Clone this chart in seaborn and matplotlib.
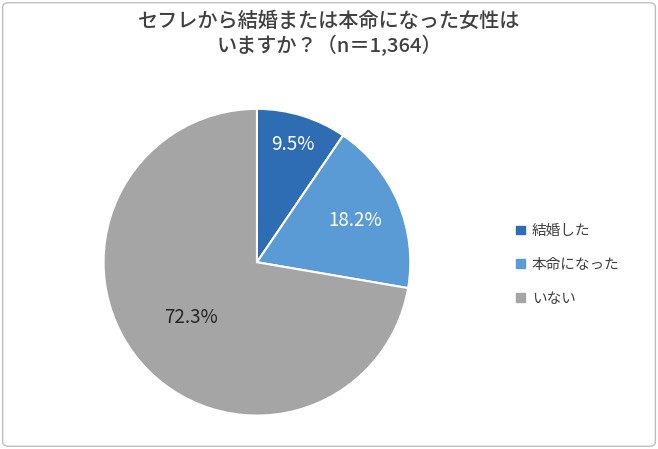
import numpy as np
import matplotlib.pyplot as plt
import seaborn as sns
from matplotlib.patches import FancyBboxPatch

labels = ['結婚した', '本命になった', 'いない']
values = [9.5, 18.2, 72.3]
title = 'セフレから結婚または本命になった女性は\nいますか？（n＝1,364）'

sns.set_theme(style='white')
plt.rcParams['font.family'] = ['Noto Sans CJK JP', 'DejaVu Sans']

colors = ['#2E6DB4', '#5B9BD5', '#A5A5A5']
text_colors = ['white', 'white', '#262626']
label_dist = [0.8, 0.7, 0.56]

fig = plt.figure(figsize=(6.58, 4.49), dpi=100)
fig.patches.append(FancyBboxPatch((0.004, 0.006), 0.992, 0.988, boxstyle='round,pad=0,rounding_size=0.01',
                                  transform=fig.transFigure, fill=False, edgecolor='#BFBFBF', linewidth=1))

ax = fig.add_axes([0.155, 0.071, 0.471, 0.69])
wedges, _ = ax.pie(values, colors=colors, startangle=90, counterclock=False,
                   wedgeprops=dict(edgecolor='white', linewidth=1.5))
ax.set_xlim(-1.01, 1.01)
ax.set_ylim(-1.01, 1.01)
ax.set_aspect('equal')

for w, v, c, d in zip(wedges, values, text_colors, label_dist):
    ang = np.deg2rad((w.theta1 + w.theta2) / 2)
    ax.text(d * np.cos(ang), d * np.sin(ang), f'{v}%', ha='center', va='center',
            fontsize=13.5, color=c)

handles = [plt.Rectangle((0, 0), 1, 1, color=c) for c in colors]
fig.legend(handles, labels, loc='center left', bbox_to_anchor=(0.765, 0.41), frameon=False,
           fontsize=10.5, handlelength=0.55, handleheight=0.55, labelspacing=1.35,
           handletextpad=0.5, labelcolor='#404040')

fig.text(0.5, 0.925, title, ha='center', va='center', fontsize=14.5, color='#404040',
         linespacing=1.25, fontweight='medium')

fig.savefig('out.png', dpi=100)
